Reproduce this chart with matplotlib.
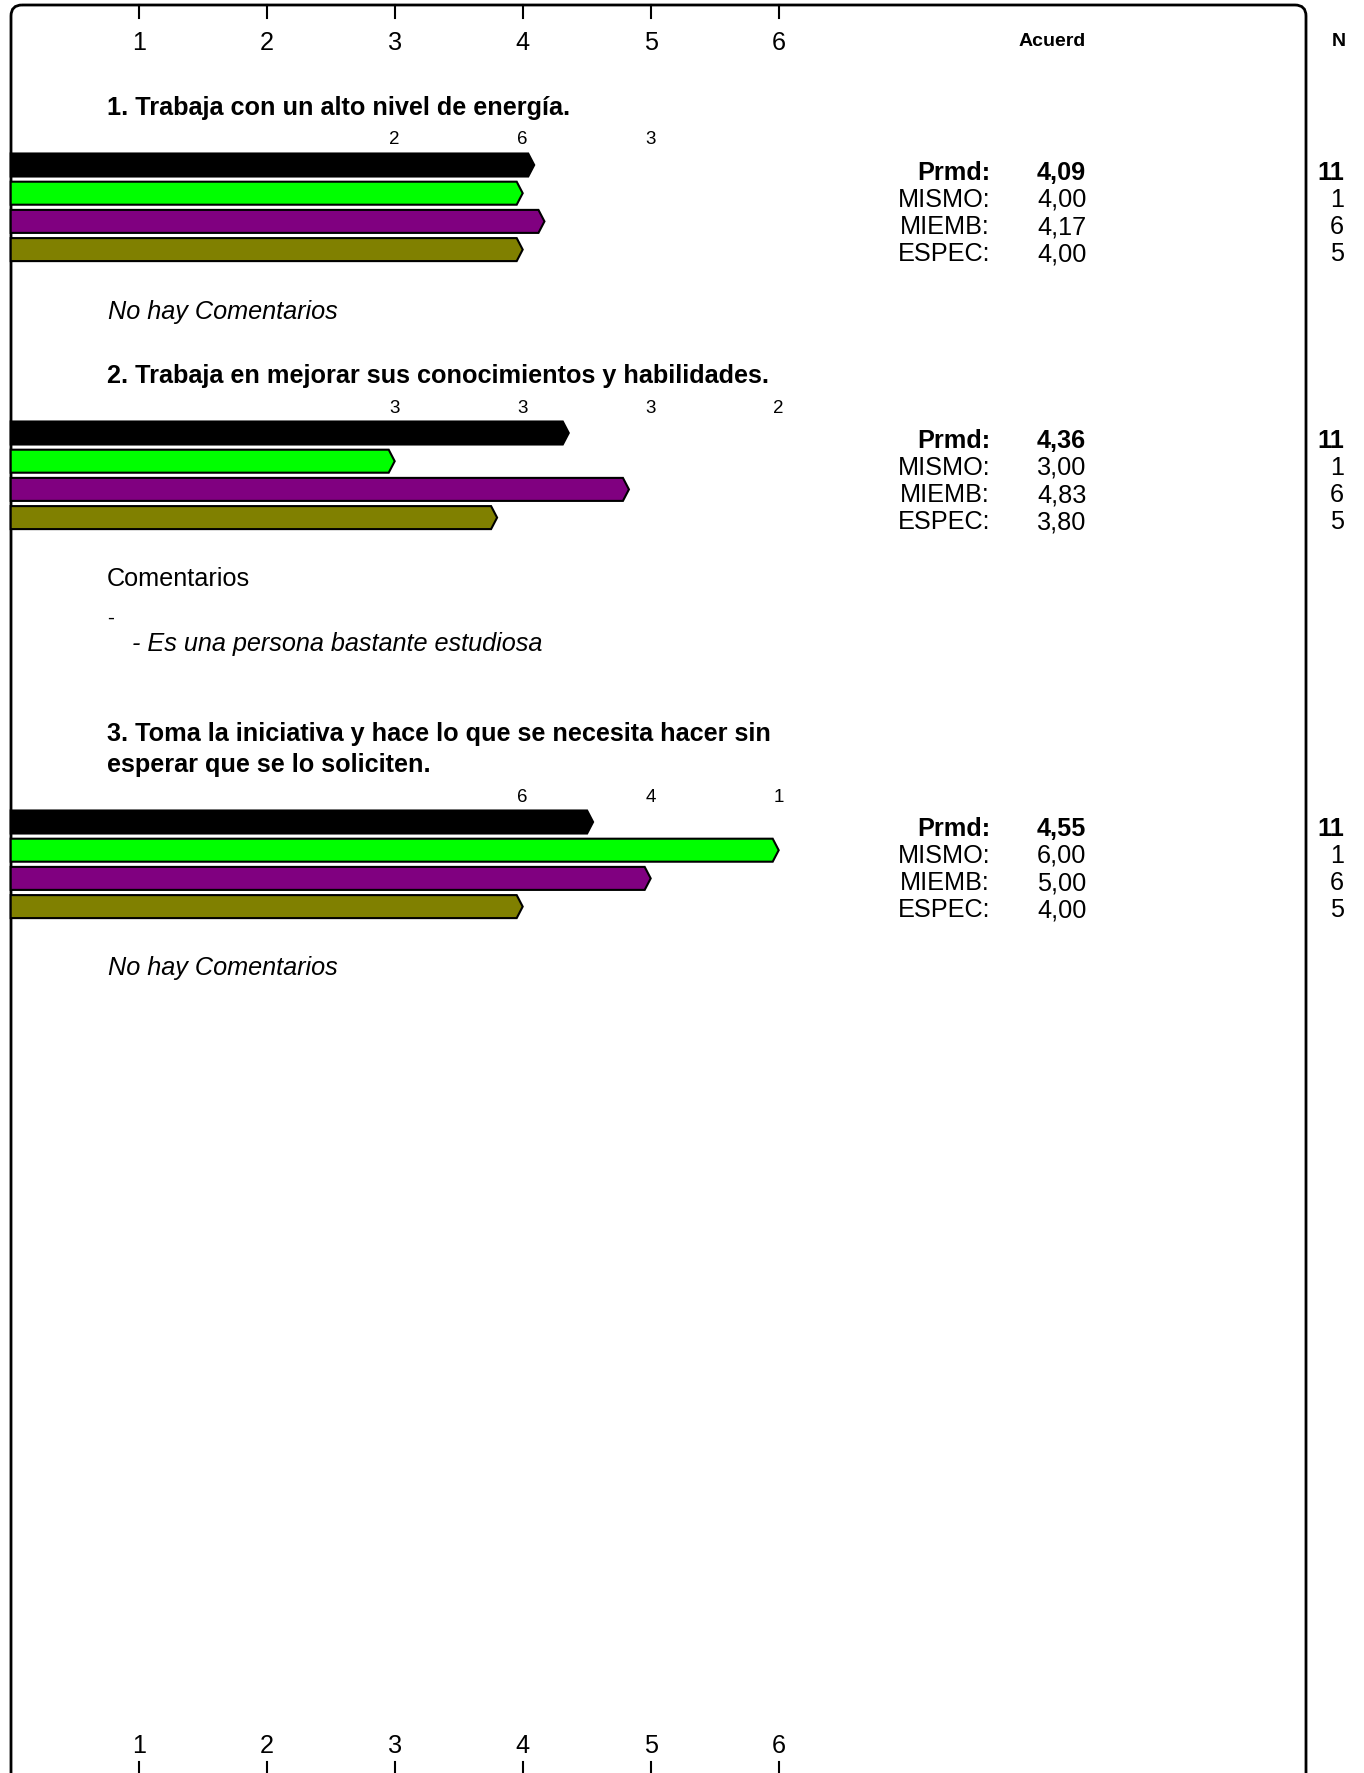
import matplotlib
matplotlib.use("Agg")
import matplotlib.pyplot as plt
from matplotlib.patches import Polygon, FancyBboxPatch

plt.rcParams['font.family'] = ['Liberation Sans', 'DejaVu Sans']

# ---------------- data ----------------
scale_ticks = [1, 2, 3, 4, 5, 6]
questions = [
    "1. Trabaja con un alto nivel de energía.",
    "2. Trabaja en mejorar sus conocimientos y habilidades.",
    "3. Toma la iniciativa y hace lo que se necesita hacer sin\nesperar que se lo soliciten.",
]
groups = ["Prmd:", "MISMO:", "MIEMB:", "ESPEC:"]
group_colors = ["#000000", "#00ff00", "#800080", "#808000"]
group_n = [11, 1, 6, 5]
q1_means = [4.09, 4.00, 4.17, 4.00]
q2_means = [4.36, 3.00, 4.83, 3.80]
q3_means = [4.55, 6.00, 5.00, 4.00]
q1_count_values = [3, 4, 5]
q1_counts = [2, 6, 3]
q2_count_values = [3, 4, 5, 6]
q2_counts = [3, 3, 3, 2]
q3_count_values = [4, 5, 6]
q3_counts = [6, 4, 1]
header_value = "Acuerd"
header_n = "N"

# ---------------- layout ----------------
W, H = 1364, 1773
fig = plt.figure(figsize=(W / 100, H / 100), dpi=100)
X0_PX, UNIT_PX = 10.7, 128.0
DY = 3.5  # text vertical offset
FS = 18.2

# pixel axes for layout text/frame
pax = fig.add_axes([0, 0, 1, 1])
pax.set_xlim(0, W)
pax.set_ylim(H, 0)
pax.axis('off')

# value axes (x in scale units, y in pixels)
ax = fig.add_axes([0, 0, 1, 1])
ax.set_xlim(-X0_PX / UNIT_PX, (W - X0_PX) / UNIT_PX)
ax.set_ylim(H, 0)
ax.axis('off')
ax.patch.set_alpha(0)

# frame with rounded top corners (extends below figure)
frame = FancyBboxPatch((11, 5), 1306 - 11, 1850, boxstyle="round,pad=0,rounding_size=11",
                       fill=False, ec='black', lw=2.0, zorder=10)
pax.add_patch(frame)

# top / bottom scale
for t in scale_ticks:
    ax.plot([t, t], [5, 18], color='black', lw=1.5, zorder=11)
    ax.text(t, 40 + DY, str(t), ha='center', va='center', fontsize=FS)
    ax.plot([t, t], [1762, 1773], color='black', lw=1.5, zorder=11)
    ax.text(t, 1746, str(t), ha='center', va='center', fontsize=FS)

pax.text(1052, 38 + DY, header_value, ha='center', va='center', fontsize=14, fontweight='bold')
pax.text(1339, 38 + DY, header_n, ha='center', va='center', fontsize=14, fontweight='bold')

BAR_H = 23
TIP = 6.0 / UNIT_PX
BAR_STEP = 28.2


def draw_question(title, title_y, count_vals, counts, count_y, means, bar_y0, stat_y0,
                  lsp=1.0):
    pax.text(107, title_y + DY, title, ha='left', va='center', fontsize=FS, fontweight='bold',
             linespacing=lsp)
    for v, c in zip(count_vals, counts):
        ax.text(v, count_y + DY, str(c), ha='center', va='center', fontsize=13.5)
    for i, (m, col) in enumerate(zip(means, group_colors)):
        yc = bar_y0 + i * BAR_STEP
        top, bot = yc - BAR_H / 2, yc + BAR_H / 2
        poly = Polygon([(0, top), (m - TIP, top), (m, yc), (m - TIP, bot), (0, bot)],
                       closed=True, fc=col, ec='black', lw=1.5, zorder=5)
        ax.add_patch(poly)
    for i, (g, m, n) in enumerate(zip(groups, means, group_n)):
        ys = stat_y0 + DY + i * 27.3
        fw = 'bold' if i == 0 else 'normal'
        pax.text(990, ys, g, ha='right', va='center', fontsize=FS, fontweight=fw)
        pax.text(1037, ys, f"{m:.2f}".replace('.', ','), ha='left', va='center',
                 fontsize=FS, fontweight=fw)
        pax.text(1344, ys, str(n), ha='right', va='center', fontsize=FS, fontweight=fw)


draw_question(questions[0], 104, q1_count_values, q1_counts, 136.5, q1_means, 165, 169)
pax.text(108, 308 + DY, "No hay Comentarios", ha='left', va='center', fontsize=FS, style='italic')

draw_question(questions[1], 372, q2_count_values, q2_counts, 405, q2_means, 433, 437)
pax.text(107, 576 + DY, "Comentarios", ha='left', va='center', fontsize=FS)
pax.text(107, 624, "-", ha='left', va='baseline', fontsize=15)
pax.text(132, 640 + DY, "- Es una persona bastante estudiosa", ha='left', va='center',
         fontsize=FS, style='italic')

draw_question(questions[2], 746, q3_count_values, q3_counts, 794, q3_means, 822, 825, lsp=1.32)
pax.text(108, 965 + DY, "No hay Comentarios", ha='left', va='center', fontsize=FS, style='italic')

fig.savefig("out.png", dpi=100)
